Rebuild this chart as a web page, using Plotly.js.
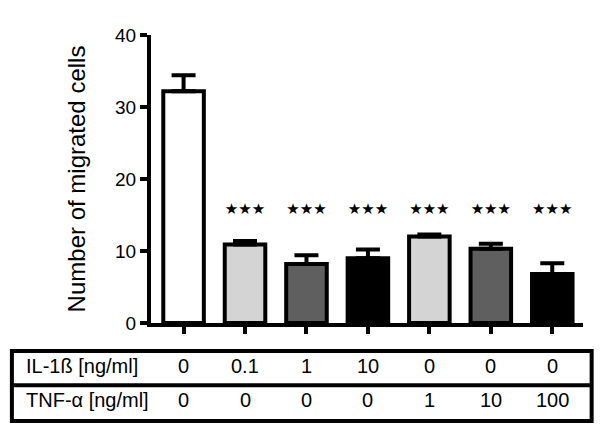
<!DOCTYPE html>
<html>
<head>
<meta charset="utf-8">
<script src="https://cdn.plot.ly/plotly-3.0.1.min.js"></script>
<style>
  html, body { margin: 0; padding: 0; background: white; }
  #graph { width: 600px; height: 431px; }
</style>
</head>
<body>
<div id="graph"></div>
<script>
// Mean number of migrated cells per condition, with upper SEM
const groups = [0, 1, 2, 3, 4, 5, 6];
const means = [32.2, 10.9, 8.2, 9.0, 12.0, 10.3, 6.8];
const sem = [2.2, 0.5, 1.2, 1.2, 0.3, 0.7, 1.5];
const barColors = ['#ffffff', '#d4d4d4', '#5f5f5f', '#000000', '#d4d4d4', '#5f5f5f', '#000000'];

// significance marks (p < 0.001 vs control)
const sigGroups = [1, 2, 3, 4, 5, 6];
const sigLevel = 15.6;
const sigText = '★★★';

// treatment table under the bars
const il1bLabel = 'IL-1ß [ng/ml]';
const il1bDoses = ['0', '0.1', '1', '10', '0', '0', '0'];
const tnfLabel = 'TNF-α [ng/ml]';
const tnfDoses = ['0', '0', '0', '0', '1', '10', '100'];

const fontFam = '"Liberation Sans", Arial, sans-serif';

const bar_trace = {
    type: 'bar',
    x: groups,
    y: means,
    width: 0.66,
    marker: {
        color: barColors,
        line: { color: 'black', width: 4 },
    },
    error_y: {
        type: 'data',
        symmetric: false,
        array: sem,
        arrayminus: sem.map(() => 0),
        color: 'black',
        thickness: 4,
        width: 12,
    },
    hoverinfo: 'none',
    showlegend: false,
};

const star_trace = {
    type: 'scatter',
    mode: 'text',
    x: sigGroups,
    y: sigGroups.map(() => sigLevel),
    text: sigGroups.map(() => sigText),
    textfont: { family: 'DejaVu Sans', size: 15, color: 'black' },
    hoverinfo: 'none',
    showlegend: false,
};

// table rows, positions in paper units relative to the plot area
const rowY = [-0.15, -0.267];
const annotations = [];
[[il1bLabel, il1bDoses], [tnfLabel, tnfDoses]].forEach(([label, doses], r) => {
    annotations.push({
        xref: 'paper', yref: 'paper', x: -0.295, y: rowY[r],
        xanchor: 'left', yanchor: 'middle', showarrow: false,
        text: label, font: { size: 20 },
    });
    doses.forEach((d, i) => {
        annotations.push({
            xref: 'x', yref: 'paper', x: groups[i], y: rowY[r],
            xanchor: 'center', yanchor: 'middle', showarrow: false,
            text: d, font: { size: 20 },
        });
    });
});

const shapes = [
    { type: 'rect', xref: 'paper', yref: 'paper', x0: -0.322, x1: 1.02, y0: -0.097, y1: -0.34,
      line: { color: 'black', width: 4 } },
    { type: 'line', xref: 'paper', yref: 'paper', x0: -0.322, x1: 1.02, y0: -0.216, y1: -0.216,
      line: { color: 'black', width: 4 } },
];

const layout = {
    width: 600,
    height: 431,
    margin: { l: 151, r: 17, t: 35, b: 108 },
    plot_bgcolor: 'white',
    paper_bgcolor: 'white',
    font: { family: fontFam, color: 'black', size: 20 },
    showlegend: false,
    bargap: 0,
    xaxis: {
        range: [-0.53, 6.5],
        showgrid: false, zeroline: false,
        showline: true, linecolor: 'black', linewidth: 4,
        ticks: 'outside', ticklen: 7, tickwidth: 4, tickcolor: 'black',
        tickmode: 'array', tickvals: groups,
        showticklabels: false,
        fixedrange: true,
    },
    yaxis: {
        range: [0, 40],
        showgrid: false, zeroline: false,
        showline: true, linecolor: 'black', linewidth: 4,
        ticks: 'outside', ticklen: 7, tickwidth: 4, tickcolor: 'black',
        tickvals: [0, 10, 20, 30, 40],
        tickfont: { size: 19 },
        title: { text: 'Number of migrated cells', font: { size: 24 }, standoff: 24 },
        fixedrange: true,
    },
    annotations: annotations,
    shapes: shapes,
};

Plotly.newPlot('graph', [bar_trace, star_trace], layout, { staticPlot: true });
</script>
</body>
</html>
